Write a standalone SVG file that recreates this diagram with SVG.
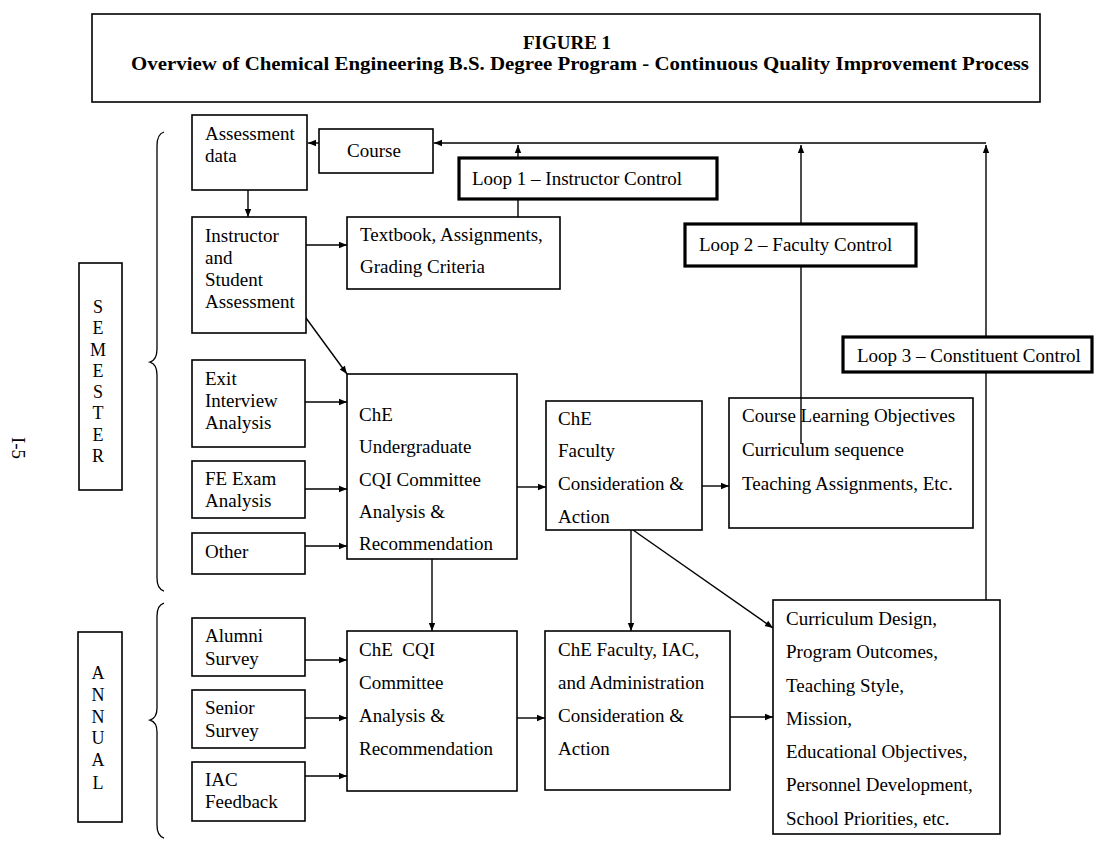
<svg xmlns="http://www.w3.org/2000/svg" width="1094" height="845" viewBox="0 0 1094 845">
<style>
.box{fill:#fff;stroke:#000;stroke-width:1.6}
.open{fill:none;stroke:#000;stroke-width:1.6}
.loop{fill:#fff;stroke:#000;stroke-width:3.2}
.t{font-family:"Liberation Serif","Times New Roman",serif;font-size:19px;fill:#000}
.v{font-family:"Liberation Serif","Times New Roman",serif;font-size:18px;fill:#000;text-anchor:middle}
.ttl{font-family:"Liberation Serif","Times New Roman",serif;font-weight:bold;font-size:19px;fill:#000;text-anchor:middle}
.c{fill:none;stroke:#000;stroke-width:1.4}
.br{fill:none;stroke:#000;stroke-width:1.3}
</style>
<defs>
<marker id="ah" viewBox="0 0 10 10" refX="10" refY="5" markerWidth="9" markerHeight="8" orient="auto" markerUnits="userSpaceOnUse">
<path d="M0,1 L10,5 L0,9 z" fill="#000"/>
</marker>
</defs>
<rect width="1094" height="845" fill="#fff"/>

<g id="title">
<rect x="92" y="14" width="948" height="88" fill="#fff" stroke="#000" stroke-width="1.6"/>
<text class="ttl" x="567" y="49">FIGURE 1</text>
<text class="ttl" x="580" y="70" textLength="898" lengthAdjust="spacingAndGlyphs">Overview of Chemical Engineering B.S. Degree Program - Continuous Quality Improvement Process</text>
</g>

<g id="page-number">
<text class="t" x="16" y="448" transform="rotate(90 16 448)" text-anchor="middle" dominant-baseline="middle">I-5</text>
</g>

<g id="semester">
<rect class="box" x="79" y="263" width="43" height="227"/>
<text class="v" x="98" y="313">S</text>
<text class="v" x="98" y="334">E</text>
<text class="v" x="98" y="356">M</text>
<text class="v" x="98" y="377">E</text>
<text class="v" x="98" y="398">S</text>
<text class="v" x="98" y="419">T</text>
<text class="v" x="98" y="441">E</text>
<text class="v" x="98" y="462">R</text>
</g>
<g id="annual">
<rect class="box" x="78" y="632" width="44" height="190"/>
<text class="v" x="98" y="679">A</text>
<text class="v" x="98" y="701">N</text>
<text class="v" x="98" y="723">N</text>
<text class="v" x="98" y="744">U</text>
<text class="v" x="98" y="766">A</text>
<text class="v" x="98" y="789">L</text>
</g>
<g id="braces">
<path class="br" d="M164,132 Q157,134 157,146 L157,349 Q157,360 150,362 Q157,364 157,375 L157,578 Q157,589 164,591"/>
<path class="br" d="M164,603 Q157,605 157,616 L157,708 Q157,718 150,720 Q157,722 157,732 L157,825 Q157,836 164,838"/>
</g>

<g id="connectors">
<path class="c" d="M986,600 V145" marker-end="url(#ah)"/>
<path class="c" d="M986,143 H434" marker-end="url(#ah)"/>
<path class="c" d="M801,444 V145" marker-end="url(#ah)"/>
<path class="c" d="M518,217 V199"/>
<path class="c" d="M518,158 V145" marker-end="url(#ah)"/>
<path class="c" d="M319,143 H308" marker-end="url(#ah)"/>
<path class="c" d="M248,190 V217" marker-end="url(#ah)"/>
<path class="c" d="M306,245 H347" marker-end="url(#ah)"/>
<path class="c" d="M306,318 L347,374" marker-end="url(#ah)"/>
<path class="c" d="M305,402 H347" marker-end="url(#ah)"/>
<path class="c" d="M305,489 H347" marker-end="url(#ah)"/>
<path class="c" d="M305,546 H347" marker-end="url(#ah)"/>
<path class="c" d="M517,487 H546" marker-end="url(#ah)"/>
<path class="c" d="M702,486 H729" marker-end="url(#ah)"/>
<path class="c" d="M432,559 V631" marker-end="url(#ah)"/>
<path class="c" d="M631,530 V631" marker-end="url(#ah)"/>
<path class="c" d="M633,530 L773,628" marker-end="url(#ah)"/>
<path class="c" d="M305,660 H347" marker-end="url(#ah)"/>
<path class="c" d="M305,718 H347" marker-end="url(#ah)"/>
<path class="c" d="M305,776 H347" marker-end="url(#ah)"/>
<path class="c" d="M517,718 H545" marker-end="url(#ah)"/>
<path class="c" d="M730,717 H773" marker-end="url(#ah)"/>
</g>

<g id="assessment-data">
<rect class="box" x="192" y="115" width="115" height="75"/>
<text class="t" x="205" y="140">Assessment</text>
<text class="t" x="205" y="162">data</text>
</g>
<g id="course">
<rect class="box" x="319" y="129" width="114" height="44"/>
<text class="t" x="347" y="157">Course</text>
</g>
<g id="loop1">
<rect class="loop" x="459" y="158" width="258" height="41"/>
<text class="t" x="472" y="185">Loop 1 – Instructor Control</text>
</g>
<g id="instructor-student">
<rect class="box" x="192" y="217" width="114" height="116"/>
<text class="t" x="205" y="242">Instructor</text>
<text class="t" x="205" y="264">and</text>
<text class="t" x="205" y="286">Student</text>
<text class="t" x="205" y="308">Assessment</text>
</g>
<g id="textbook">
<rect class="box" x="347" y="217" width="213" height="72"/>
<text class="t" x="360" y="241">Textbook, Assignments,</text>
<text class="t" x="360" y="273">Grading Criteria</text>
</g>
<g id="loop2">
<rect class="loop" x="685" y="224" width="231" height="42"/>
<text class="t" x="699" y="251">Loop 2 – Faculty Control</text>
</g>
<g id="loop3">
<rect class="loop" x="843" y="337" width="249" height="35"/>
<text class="t" x="857" y="362">Loop 3 – Constituent Control</text>
</g>
<g id="exit-interview">
<rect class="box" x="192" y="360" width="113" height="87"/>
<text class="t" x="205" y="385">Exit</text>
<text class="t" x="205" y="407">Interview</text>
<text class="t" x="205" y="429">Analysis</text>
</g>
<g id="fe-exam">
<rect class="box" x="192" y="461" width="113" height="57"/>
<text class="t" x="205" y="485">FE Exam</text>
<text class="t" x="205" y="507">Analysis</text>
</g>
<g id="other">
<rect class="box" x="192" y="533" width="113" height="41"/>
<text class="t" x="205" y="558">Other</text>
</g>
<g id="che-undergrad-cqi">
<rect class="box" x="347" y="374" width="170" height="185"/>
<text class="t" x="359" y="421">ChE</text>
<text class="t" x="359" y="453">Undergraduate</text>
<text class="t" x="359" y="486">CQI Committee</text>
<text class="t" x="359" y="518">Analysis &amp;</text>
<text class="t" x="359" y="550">Recommendation</text>
</g>
<g id="che-faculty">
<rect class="box" x="546" y="401" width="156" height="129"/>
<text class="t" x="558" y="425">ChE</text>
<text class="t" x="558" y="457">Faculty</text>
<text class="t" x="558" y="490">Consideration &amp;</text>
<text class="t" x="558" y="523">Action</text>
</g>
<g id="course-objectives">
<rect class="open" x="729" y="398" width="244" height="130"/>
<text class="t" x="742" y="422">Course Learning Objectives</text>
<text class="t" x="742" y="456">Curriculum sequence</text>
<text class="t" x="742" y="490">Teaching Assignments, Etc.</text>
</g>
<g id="alumni-survey">
<rect class="box" x="192" y="618" width="113" height="58"/>
<text class="t" x="205" y="642">Alumni</text>
<text class="t" x="205" y="665">Survey</text>
</g>
<g id="senior-survey">
<rect class="box" x="192" y="690" width="113" height="58"/>
<text class="t" x="205" y="714">Senior</text>
<text class="t" x="205" y="737">Survey</text>
</g>
<g id="iac-feedback">
<rect class="box" x="192" y="762" width="113" height="59"/>
<text class="t" x="205" y="786">IAC</text>
<text class="t" x="205" y="808">Feedback</text>
</g>
<g id="che-cqi">
<rect class="box" x="347" y="631" width="170" height="160"/>
<text class="t" x="359" y="656" xml:space="preserve">ChE  CQI</text>
<text class="t" x="359" y="689">Committee</text>
<text class="t" x="359" y="722">Analysis &amp;</text>
<text class="t" x="359" y="755">Recommendation</text>
</g>
<g id="che-faculty-iac">
<rect class="box" x="545" y="631" width="185" height="159"/>
<text class="t" x="558" y="656">ChE Faculty, IAC,</text>
<text class="t" x="558" y="689">and Administration</text>
<text class="t" x="558" y="722">Consideration &amp;</text>
<text class="t" x="558" y="755">Action</text>
</g>
<g id="curriculum-design">
<rect class="box" x="773" y="600" width="227" height="234"/>
<text class="t" x="786" y="625">Curriculum Design,</text>
<text class="t" x="786" y="658">Program Outcomes,</text>
<text class="t" x="786" y="692">Teaching Style,</text>
<text class="t" x="786" y="725">Mission,</text>
<text class="t" x="786" y="758">Educational Objectives,</text>
<text class="t" x="786" y="791">Personnel Development,</text>
<text class="t" x="786" y="825">School Priorities, etc.</text>
</g>
</svg>
